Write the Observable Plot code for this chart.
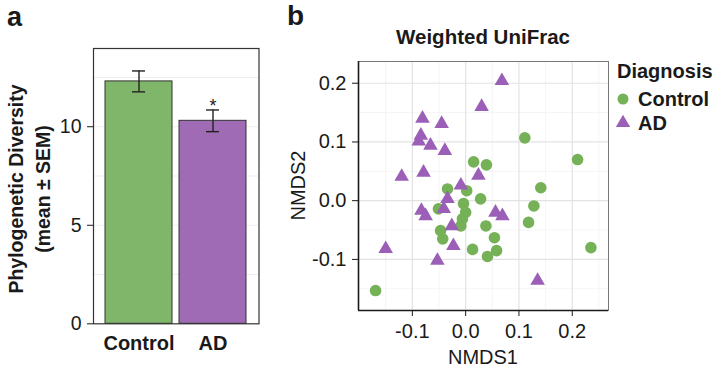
<!DOCTYPE html>
<html><head><meta charset="utf-8">
<script src="https://cdn.jsdelivr.net/npm/d3@7"></script>
<script src="https://cdn.jsdelivr.net/npm/@observablehq/plot@0.6"></script>
<style>
body{margin:0;background:#fff;}
#wrap{position:relative;width:713px;height:370px;overflow:hidden;font-family:"Liberation Sans",Arial,Helvetica,sans-serif;color:#1a1a1a;}
#wrap > svg{position:absolute;top:0;}
.pa g[aria-label^="x-axis"] text{font-weight:700;font-size:20px;}
#overlay{position:absolute;left:0;top:0;pointer-events:none;}
</style></head><body><div id="wrap"></div>
<script>
// ---- Panel a data ----
const groups = ["Control", "AD"];
const diversityMean = [12.3, 10.3];
const diversitySem = [0.53, 0.55];
const significance = ["", "*"];
const barColors = ["#80b66a", "#9e6bb4"];
const yTicksA = [0, 5, 10];
const gridTicksA = [2.5, 5, 7.5, 10, 12.5];

// ---- Panel b data (NMDS coordinates) ----
const controlX = [0.111, 0.210, 0.015, 0.039, 0.141, -0.034, 0.002, 0.028, -0.051, -0.004, 0.000, -0.006, -0.009, -0.047, -0.043, 0.013, 0.038, 0.054, 0.058, 0.041, 0.128, 0.118, 0.235, -0.169];
const controlY = [0.107, 0.070, 0.066, 0.061, 0.022, 0.020, 0.017, 0.003, -0.014, -0.005, -0.020, -0.031, -0.043, -0.051, -0.065, -0.083, -0.043, -0.063, -0.085, -0.095, -0.009, -0.037, -0.080, -0.153];
const adX = [0.068, 0.030, -0.081, -0.045, -0.084, -0.088, -0.066, -0.039, -0.120, -0.079, 0.024, -0.009, -0.034, -0.083, -0.075, -0.041, -0.026, -0.023, -0.053, -0.150, 0.056, 0.069, 0.135];
const adY = [0.204, 0.160, 0.140, 0.131, 0.111, 0.101, 0.094, 0.085, 0.041, 0.048, 0.043, 0.026, 0.003, -0.017, -0.026, -0.014, -0.043, -0.077, -0.102, -0.082, -0.020, -0.026, -0.136];
const xDomainB = [-0.201, 0.268];
const yDomainB = [-0.187, 0.237];
const xTicksB = [-0.1, 0, 0.1, 0.2];
const yTicksB = [-0.1, 0, 0.1, 0.2];
const xMinorB = [-0.15, -0.05, 0.05, 0.15, 0.25];
const yMinorB = [-0.15, -0.05, 0.05, 0.15];
const diagnosisLabels = ["Control", "AD"];
const pointColors = ["#75b157", "#9b5fb8"];

const font = '"Liberation Sans", Arial, Helvetica, sans-serif';
const wrap = document.getElementById("wrap");

// ---- Panel a ----
const barData = groups.map((g, i) => ({group: g, mean: diversityMean[i], sem: diversitySem[i], sig: significance[i]}));
const plotA = Plot.plot({
  className: "pa",
  width: 262, height: 370,
  marginLeft: 93, marginRight: 3.5, marginTop: 48, marginBottom: 46.7,
  style: {fontFamily: font, fontSize: "19.5px", color: "#1a1a1a", background: "transparent", overflow: "visible"},
  x: {domain: groups, paddingInner: 0.1, paddingOuter: 0.16, tickSize: 0, tickPadding: 12, label: null},
  y: {domain: [0, 13.97], ticks: yTicksA, tickSize: 6, tickPadding: 6, label: null},
  color: {domain: groups, range: barColors},
  marks: [
    Plot.ruleY(gridTicksA, {stroke: "#efefef", strokeWidth: 1}),
    Plot.barY(barData, {x: "group", y: "mean", fill: "group", stroke: "#333", strokeWidth: 1}),
    Plot.ruleX(barData, {x: "group", y1: d => d.mean - d.sem, y2: d => d.mean + d.sem, stroke: "#222", strokeWidth: 1.4}),
    Plot.tickY(barData, {x: "group", y: d => d.mean + d.sem, insetLeft: 27, insetRight: 27, stroke: "#222", strokeWidth: 1.4}),
    Plot.tickY(barData, {x: "group", y: d => d.mean - d.sem, insetLeft: 27, insetRight: 27, stroke: "#222", strokeWidth: 1.4}),
    Plot.text(barData, {x: "group", y: d => d.mean + d.sem + 0.2, text: "sig", fontSize: 18, fill: "#222"}),
    Plot.frame({stroke: "#333", strokeWidth: 1.2})
  ]
});
plotA.style.left = "0px";
wrap.appendChild(plotA);

// ---- Panel b ----
const ptsControl = controlX.map((x, i) => ({x, y: controlY[i]}));
const ptsAD = adX.map((x, i) => ({x, y: adY[i]}));
const fmt = d => d.toFixed(1);
const plotB = Plot.plot({
  width: 340, height: 370,
  marginLeft: 78, marginRight: 12, marginTop: 61, marginBottom: 60,
  style: {fontFamily: font, fontSize: "20px", color: "#1a1a1a", background: "transparent", overflow: "visible"},
  x: {domain: xDomainB, ticks: xTicksB, tickFormat: fmt, tickSize: 6, tickPadding: 7, label: null},
  y: {domain: yDomainB, ticks: yTicksB, tickFormat: fmt, tickSize: 6, tickPadding: 6, label: null},
  marks: [
    Plot.ruleX(xMinorB, {stroke: "#f3f3f3", strokeWidth: 0.8}),
    Plot.ruleY(yMinorB, {stroke: "#f3f3f3", strokeWidth: 0.8}),
    Plot.ruleX(xTicksB, {stroke: "#e3e3e3", strokeWidth: 1.2}),
    Plot.ruleY(yTicksB, {stroke: "#e3e3e3", strokeWidth: 1.2}),
    Plot.dot(ptsControl, {x: "x", y: "y", r: 5.8, fill: pointColors[0], symbol: "circle"}),
    Plot.dot(ptsAD, {x: "x", y: "y", r: 5.4, fill: pointColors[1], symbol: "triangle"}),
    Plot.frame({stroke: "#777", strokeWidth: 1}),
    Plot.ruleX([xDomainB[0]], {stroke: "#1a1a1a", strokeWidth: 1.6}),
    Plot.ruleY([yDomainB[0]], {stroke: "#1a1a1a", strokeWidth: 1.6})
  ]
});
plotB.style.left = "280px";
wrap.appendChild(plotB);

// ---- Text overlay: panel letters, titles, legend ----
const ns = "http://www.w3.org/2000/svg";
const ov = document.createElementNS(ns, "svg");
ov.setAttribute("id", "overlay");
ov.setAttribute("width", 713); ov.setAttribute("height", 370);
ov.style.fontFamily = font;
wrap.appendChild(ov);
function txt(s, x, y, opts = {}) {
  const t = document.createElementNS(ns, "text");
  t.textContent = s;
  t.setAttribute("x", x); t.setAttribute("y", y);
  t.setAttribute("font-size", opts.size || 20);
  t.setAttribute("font-weight", opts.weight || "normal");
  t.setAttribute("text-anchor", opts.anchor || "start");
  t.setAttribute("fill", "#1a1a1a");
  if (opts.rotate) t.setAttribute("transform", `rotate(-90 ${x} ${y})`);
  ov.appendChild(t);
}
txt("a", 7, 26, {size: 27, weight: "bold"});
txt("b", 287, 25, {size: 28, weight: "bold"});
txt("Phylogenetic Diversity", 23, 189, {size: 19.5, weight: "bold", anchor: "middle", rotate: true});
txt("(mean \u00b1 SEM)", 50, 189, {size: 19.5, weight: "bold", anchor: "middle", rotate: true});
txt("Weighted UniFrac", 483, 44, {size: 20.5, weight: "bold", anchor: "middle"});
txt("NMDS2", 305, 185.5, {anchor: "middle", rotate: true});
txt("NMDS1", 483, 364, {anchor: "middle"});
txt("Diagnosis", 617, 78, {weight: "bold"});
txt(diagnosisLabels[0], 638, 106, {weight: "bold"});
txt(diagnosisLabels[1], 638, 130, {weight: "bold"});
const c = document.createElementNS(ns, "circle");
c.setAttribute("cx", 623); c.setAttribute("cy", 99); c.setAttribute("r", 5.5); c.setAttribute("fill", pointColors[0]);
ov.appendChild(c);
const tri = d3.symbol(d3.symbolTriangle, 5.3 * 5.3 * Math.PI)();
const p = document.createElementNS(ns, "path");
p.setAttribute("d", tri); p.setAttribute("transform", "translate(623,123)"); p.setAttribute("fill", pointColors[1]);
ov.appendChild(p);
</script></body></html>
